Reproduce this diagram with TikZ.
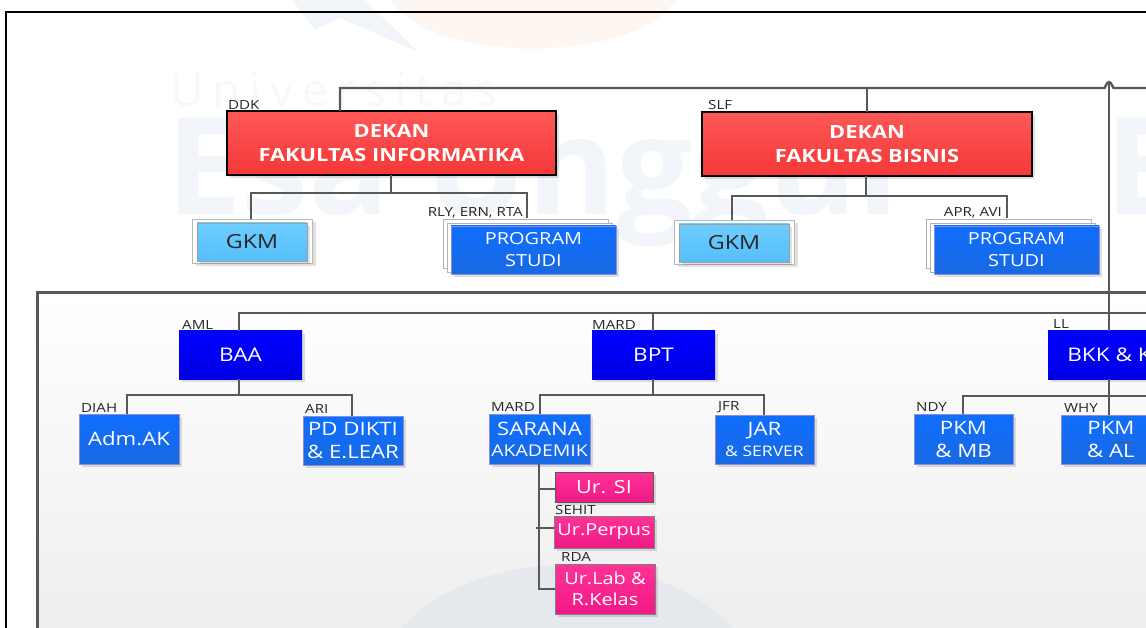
\documentclass[tikz,border=0pt]{standalone}
\usepackage{fontspec}
\setmainfont[FakeStretch=1.2]{Open Sans}
\newfontfamily\wmfont{Open Sans}
\usetikzlibrary{shadows}
\definecolor{wmblue}{RGB}{242,245,250}
\definecolor{wmlight}{RGB}{246,248,251}
\definecolor{wmorange}{RGB}{254,246,241}
\definecolor{wmstroke}{RGB}{241,245,250}
\definecolor{wmdisc}{RGB}{229,232,237}
\definecolor{linegray}{RGB}{88,88,88}
\tikzset{
  base/.style={anchor=north west,align=center,inner sep=0pt,outer sep=0pt,text=white,
    drop shadow={shadow xshift=3pt,shadow yshift=-3pt,opacity=.12,fill=black}},
  dekan/.style={base,draw=black,line width=1.5pt,top color={rgb,255:red,255;green,88;blue,88},bottom color={rgb,255:red,245;green,55;blue,55},font=\bfseries\fontsize{18.2}{24}\selectfont},
  baa/.style={base,top color=blue,bottom color=blue!90!black,font=\fontsize{18.8}{24}\selectfont},
  unit/.style={base,draw=blue!50!gray!60,line width=.5pt,top color={rgb,255:red,15;green,110;blue,255},bottom color={rgb,255:red,25;green,105;blue,225},font=\fontsize{18.5}{23}\selectfont},
  prodi/.style={unit,font=\fontsize{16.6}{22}\selectfont},
  ur/.style={base,draw=gray,line width=.5pt,top color={rgb,255:red,255;green,50;blue,150},bottom color={rgb,255:red,240;green,25;blue,135},font=\fontsize{16.6}{21}\selectfont},
  gkm/.style={base,draw=gray!75,line width=.6pt,top color={rgb,255:red,110;green,205;blue,255},bottom color={rgb,255:red,85;green,190;blue,250},text=black!85,font=\fontsize{19.4}{20}\selectfont},
  gkmback/.style={draw=gray!55,line width=1pt,fill=white,drop shadow={shadow xshift=3pt,shadow yshift=-3pt,opacity=.12,fill=black},inner sep=0pt,anchor=north west},
  sheet/.style={draw=gray!60,fill=white,line width=.5pt,inner sep=0pt,anchor=north west},
  tag/.style={anchor=south west,inner sep=0pt,text=black!85,font=\fontsize{12.6}{14}\selectfont},
  conn/.style={draw=linegray,line width=2.4pt},
}
\begin{document}
\begin{tikzpicture}[x=1pt,y=-1pt]
\useasboundingbox (0,0) rectangle (1146,628);
\clip (0,0) rectangle (1146,628);
% watermark
\fill[wmorange] (391,0) .. controls (430,65) and (635,65) .. (675,0) -- cycle;
\fill[wmstroke] (292,0) -- (315,30) -- (340,18) -- (418,52) -- (365,0) -- cycle;
\node[anchor=base west,inner sep=0pt,text=wmlight,font=\wmfont\fontsize{46}{50}\selectfont] (wmuni) at (170,107) {\spaceskip=8.9pt U n i v e r s i t a s};
\node[anchor=base west,inner sep=0pt,text=wmblue,font=\wmfont\bfseries\fontsize{135}{140}\selectfont] (wmesa) at (166,215) {Esa Unggul};
\node[anchor=base west,inner sep=0pt,text=wmblue,font=\wmfont\bfseries\fontsize{135}{140}\selectfont] (wmend) at (1105,215) {E};
% frames
\draw[black,line width=2pt] (1160,12) -- (5.5,12) -- (5.5,640);
\fill[top color=white,bottom color=black!7] (37,293) rectangle (1160,640);
\fill[wmdisc] (567,690) ellipse (190 and 125);
\draw[conn,line width=3pt] (1160,293) -- (37,293) -- (37,640);
% dekan
\node[dekan,minimum width=329pt,minimum height=64pt] (dekanfi) at (227,111) {DEKAN\\FAKULTAS INFORMATIKA};
\node[dekan,minimum width=330pt,minimum height=64pt] (dekanfb) at (702,112) {DEKAN\\FAKULTAS BISNIS};
\node[tag] (ddk) at (228,110) {DDK};
\node[tag] (slf) at (708,110) {SLF};
% gkm
\node[gkmback,minimum width=120pt,minimum height=44pt] (gkmfiback) at (192,219) {};
\node[gkm,minimum width=110pt,minimum height=38pt] (gkmfi) at (197,223) {GKM};
\node[gkmback,minimum width=120pt,minimum height=44pt] (gkmfbback) at (674,220) {};
\node[gkm,minimum width=110pt,minimum height=38pt] (gkmfb) at (679,224) {GKM};
% program studi
\node[sheet,minimum width=165pt,minimum height=49pt] (prodifia) at (443,219) {};
\node[sheet,minimum width=165pt,minimum height=49pt] (prodifib) at (447,223) {};
\node[prodi,minimum width=165pt,minimum height=48pt] (prodifi) at (451,226) {PROGRAM\\STUDI};
\node[sheet,minimum width=165pt,minimum height=49pt] (prodifba) at (926,219) {};
\node[sheet,minimum width=165pt,minimum height=49pt] (prodifbb) at (930,223) {};
\node[prodi,minimum width=165pt,minimum height=48pt] (prodifb) at (934,226) {PROGRAM\\STUDI};
\node[tag,anchor=south east] (rly) at (523,218) {RLY, ERN, RTA};
\node[tag,anchor=south east] (apr) at (1002,218) {APR, AVI};
% biro
\node[baa,minimum width=123pt,minimum height=48pt] (baa) at (179,331) {BAA};
\node[baa,minimum width=123pt,minimum height=48pt] (bpt) at (592,331) {BPT};
\node[baa,minimum width=123pt,minimum height=48pt] (bkk) at (1048,331) {BKK \& K};
\node[tag] (aml) at (182,330) {AML};
\node[tag] (mardb) at (592,330) {MARD};
\node[tag] (ll) at (1053,329) {LL};
% units
\node[unit,minimum width=100pt,minimum height=50pt] (adm) at (79,414) {Adm.AK};
\node[unit,minimum width=100pt,minimum height=49pt] (dikti) at (303,416) {PD DIKTI\\\& E.LEAR};
\node[unit,minimum width=101pt,minimum height=50pt] (sarana) at (489,414) {\raisebox{-2pt}{SARANA}\\{\fontsize{16.2}{23}\selectfont AKADEMIK}};
\node[unit,minimum width=99pt,minimum height=49pt] (jar) at (715,415) {\raisebox{-2pt}{JAR}\\{\fontsize{14.6}{22}\selectfont\& SERVER}};
\node[unit,minimum width=99pt,minimum height=50pt] (pkmmb) at (914,414) {PKM\\\& MB};
\node[unit,minimum width=100pt,minimum height=49pt] (pkmal) at (1061,415) {PKM\\\& AL};
\node[tag] (diah) at (81,413) {DIAH};
\node[tag] (ari) at (305,414) {ARI};
\node[tag] (mards) at (491,412) {MARD};
\node[tag] (jfr) at (718,413) {JFR};
\node[tag] (ndy) at (916,412) {NDY};
\node[tag] (why) at (1064,413) {WHY};
% urusan
\node[ur,draw=black!65,minimum width=98pt,minimum height=30pt,font=\fontsize{18}{21}\selectfont] (ursi) at (555,472) {Ur. SI};
\node[ur,minimum width=100pt,minimum height=32pt] (urperpus) at (554,516) {\raisebox{-2pt}{Ur.Perpus}};
\node[ur,minimum width=100pt,minimum height=50pt] (urlab) at (555,564) {Ur.Lab \&\\R.Kelas};
\node[tag] (sehit) at (555,515) {SEHIT};
\node[tag] (rda) at (561,562) {RDA};
% connectors
\coordinate (topfi) at (340,88);
\coordinate (topfb) at (867,88);
\coordinate (hopl) at (1103,88);
\coordinate (hopr) at (1115,88);
\coordinate (topend) at (1150,88);
\coordinate (hoptop) at (1109,82);
\coordinate (rowbiro) at (239,313);
\coordinate (rowend) at (1150,313);
\draw[conn] (dekanfi.north -| topfi) -- (topfi) -- (hopl) to[out=-40,in=180] (hoptop) to[out=0,in=220] (hopr) -- (topend);
\draw[conn] (dekanfb.north -| topfb) -- (topfb);
\draw[conn] (hoptop) -- (bkk.north -| hoptop);
\draw[conn] (baa.north -| rowbiro) -- (rowbiro) -- (rowend);
\draw[conn] (bpt.north -| 653,0) -- (653,313);
\coordinate (gkmfitop) at (251,193);
\coordinate (prodifitop) at (527,193);
\draw[conn] (dekanfi.south -| 391,0) -- (391,193);
\draw[conn] (gkmfiback.north -| gkmfitop) -- (gkmfitop) -- (prodifitop) -- (rly.south -| prodifitop);
\coordinate (gkmfbtop) at (732,196);
\coordinate (prodifbtop) at (1007,196);
\draw[conn] (dekanfb.south -| 866,0) -- (866,196);
\draw[conn] (gkmfbback.north -| gkmfbtop) -- (gkmfbtop) -- (prodifbtop) -- (apr.south -| prodifbtop);
\coordinate (admtop) at (127,395);
\coordinate (diktitop) at (352,395);
\draw[conn] (baa.south -| 239,0) -- (239,395);
\draw[conn] (adm.north -| admtop) -- (admtop) -- (diktitop) -- (dikti.north -| diktitop);
\coordinate (sartop) at (540,395);
\coordinate (jartop) at (764,395);
\draw[conn] (bpt.south -| 653,0) -- (653,395);
\draw[conn] (sarana.north -| sartop) -- (sartop) -- (jartop) -- (jar.north -| jartop);
\coordinate (mbtop) at (963,396);
\coordinate (alend) at (1150,396);
\draw[conn] (bkk.south -| 1109,0) -- (1109,415);
\draw[conn] (pkmmb.north -| mbtop) -- (mbtop) -- (alend);
\coordinate (urtrunk) at (539,589);
\draw[conn] (sarana.south -| urtrunk) -- (urtrunk) -- (urlab.west |- urtrunk);
\draw[conn] (ursi.west |- 0,489) -- (539,489);
\draw[conn,line width=1.2pt] (urperpus.west |- 0,528) -- (536,528);
\draw[draw=linegray,line width=1pt] (1115,442) -- (1134,442);
\end{tikzpicture}
\end{document}
